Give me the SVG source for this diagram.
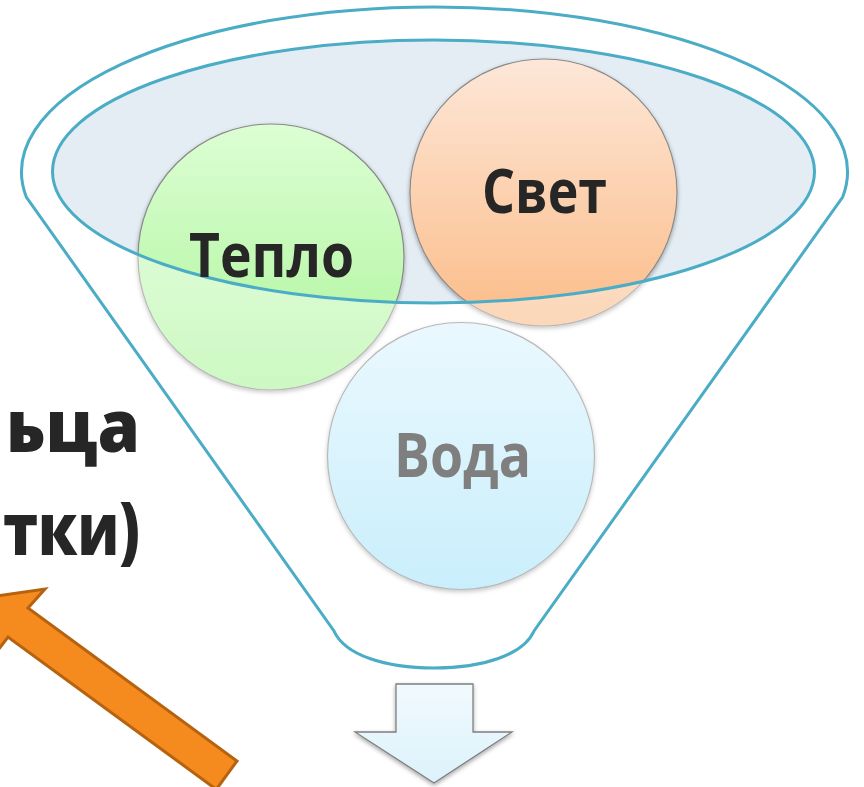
<svg xmlns="http://www.w3.org/2000/svg" width="864" height="787" viewBox="0 0 864 787">
<defs>
<style>
.teal{fill:none;stroke:#4BACC6;stroke-width:3}
.circ{stroke:#8A8A8A;stroke-width:1.2;filter:url(#sh)}
.lbl{font-family:"Open Sans","Noto Sans","DejaVu Sans",sans-serif;font-weight:700;text-anchor:middle}
.big{font-family:"Open Sans","Noto Sans","DejaVu Sans",sans-serif;font-weight:800;font-size:72px;fill:#262626;text-anchor:end}
</style>
<filter id="sh" x="-20%" y="-20%" width="140%" height="140%">
<feDropShadow dx="0" dy="2" stdDeviation="2" flood-color="#000" flood-opacity="0.35"/>
</filter>
<linearGradient id="gT" x1="0" y1="0" x2="0" y2="1">
<stop offset="0" stop-color="#DCFED3"/><stop offset="1" stop-color="#ACF49A"/>
</linearGradient>
<linearGradient id="gS" x1="0" y1="0" x2="0" y2="1">
<stop offset="0" stop-color="#FDE7D8"/><stop offset="1" stop-color="#FBBC88"/>
</linearGradient>
<linearGradient id="gV" x1="0" y1="0" x2="0" y2="1">
<stop offset="0" stop-color="#DDF4FD"/><stop offset="1" stop-color="#A6E4FA"/>
</linearGradient>
<linearGradient id="gA" x1="0" y1="0" x2="0" y2="1">
<stop offset="0" stop-color="#F1FAFE"/><stop offset="1" stop-color="#DCF2FB"/>
</linearGradient>
</defs>
<rect width="864" height="787" fill="#FFFFFF"/>

<g id="funnel-top">
<ellipse cx="433.5" cy="171.5" rx="381" ry="131.5" fill="#E4EDF4"/>
</g>

<g id="node-teplo">
<circle class="circ" cx="271" cy="257" r="133" fill="url(#gT)"/>
</g>
<g id="node-svet">
<circle class="circ" cx="543.5" cy="192.5" r="133.5" fill="url(#gS)"/>
</g>
<g id="node-voda">
<circle class="circ" cx="461" cy="456" r="133.5" fill="url(#gV)"/>
</g>

<g id="funnel">
<path fill="#FFFFFF" fill-opacity="0.4" fill-rule="evenodd" d="M26.3,197 A413,165 0 1 1 842.7,197 L534,631 C523,655 483,668 434,668 C385,668 345,655 334,631 Z M52.5,171.5 A381,131.5 0 1 0 814.5,171.5 A381,131.5 0 1 0 52.5,171.5 Z"/>
<path class="teal" d="M26.3,197 A413,165 0 1 1 842.7,197 L534,631 C523,655 483,668 434,668 C385,668 345,655 334,631 Z"/>
<ellipse class="teal" cx="433.5" cy="171.5" rx="381" ry="131.5"/>
</g>

<g id="labels">
<text class="lbl" x="271.5" y="277" font-size="60" fill="#262626" textLength="165" lengthAdjust="spacingAndGlyphs">Тепло</text>
<text class="lbl" x="544.5" y="213" font-size="60" fill="#262626" textLength="125" lengthAdjust="spacingAndGlyphs">Свет</text>
<text class="lbl" x="462.5" y="477" font-size="60" fill="#7F7F7F" textLength="137" lengthAdjust="spacingAndGlyphs">Вода</text>
</g>

<g id="left-text">
<text class="big" x="140" y="452" textLength="134" lengthAdjust="spacingAndGlyphs">ьца</text>
<text class="big" x="140" y="555" textLength="137" lengthAdjust="spacingAndGlyphs">тки)</text>
</g>

<g id="connectors">
<path id="arrow-orange" fill="#F58A1F" stroke="#B5630F" stroke-width="3" stroke-linejoin="miter" d="M237,761 L216.3,789.4 L8,637 L-7.6,657.6 L-15.9,597.8 L45,589 L28,608 Z"/>
<path id="arrow-down" fill="url(#gA)" stroke="#7F7F7F" stroke-width="1.3" filter="url(#sh)" d="M396,684 L473,684 L473,732 L512,732 L434,783 L355,732 L396,732 Z"/>
</g>
</svg>
